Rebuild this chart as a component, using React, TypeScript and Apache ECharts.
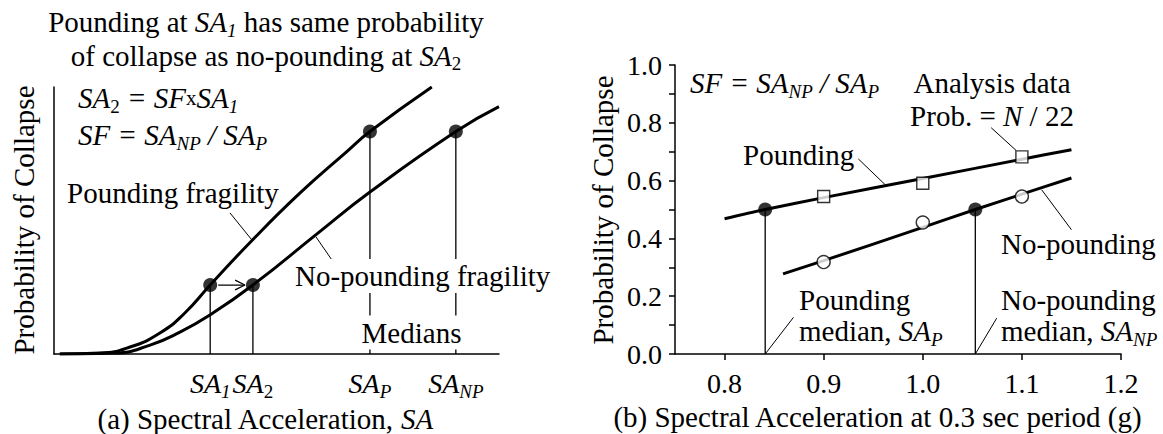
import React, { useEffect, useRef } from 'react';
import * as echarts from 'echarts';

const FONT = 'Liberation Serif';
const FS = 29;
const TICK_FS = 28;
const SUB = 19;

// ---------- Panel (a): schematic fragility curves (x: SA, arbitrary units; y: probability) ----------
const aPoundingCurve: number[][] = [
  [0.13, 0], [1.03, 0.002], [1.71, 0.0157], [2.38, 0.0472], [2.94, 0.0921], [3.51, 0.155],
  [4.4, 0.25], [5.53, 0.362], [6.58, 0.455], [7.1, 0.5], [8.49, 0.6],
];
const aNoPoundingCurve: number[][] = [
  [0.13, 0], [1.37, 0.002], [2.16, 0.02], [2.83, 0.049], [3.51, 0.088], [4.47, 0.155],
  [5.91, 0.27], [7.1, 0.364], [9.03, 0.5], [10, 0.556],
];
const aTickValues = [3.51, 4.47, 7.1, 9.03];
const aTickLabels = ['{ti|SA}{is|1}', '{ti|SA}{s|2}', '{ti|SA}{is|P}', '{ti|SA}{is|NP}'];
const aPoints: number[][] = [[3.51, 0.155], [4.47, 0.155], [7.1, 0.5], [9.03, 0.5]];
const aLeaders: number[][][] = [
  [[3.955, 0.317], [4.449, 0.256]],
  [[6.337, 0.198], [5.888, 0.263]],
];
const aArrowShaft: number[][] = [[3.69, 0.155], [4.29, 0.155]];
const aArrowHead: number[][] = [[4.07, 0.166], [4.29, 0.155], [4.07, 0.144]];

// ---------- Panel (b): analysis data ----------
const bXTicks = [0.8, 0.9, 1.0, 1.1, 1.2];
const bYLabels = [0, 0.2, 0.4, 0.6, 0.8, 1.0];
const bSA = [0.9, 1.0, 1.1];
const bPounding = [0.545, 0.591, 0.682];
const bNoPounding = [0.318, 0.455, 0.545];
const bPoundingFit: number[][] = [[0.8, 0.468], [0.841, 0.5], [0.9, 0.541], [1.0, 0.607], [1.1, 0.674], [1.15, 0.707]];
const bNoPoundingFit: number[][] = [[0.859, 0.277], [0.9, 0.323], [1.0, 0.438], [1.053, 0.5], [1.1, 0.553], [1.15, 0.609]];
const bMedians: number[][] = [[0.841, 0.5], [1.053, 0.5]];
const bLeaders: number[][][] = [
  [[0.935, 0.675], [0.962, 0.586]],
  [[1.12, 0.568], [1.15, 0.43]],
  [[1.069, 0.783], [1.094, 0.705]],
  [[0.841, 0], [0.8696, 0.127]],
  [[1.053, 0], [1.0746, 0.124]],
];

// rich styles for axis labels (ECharts label model)
const AXIS_RICH: any = {
  ti: { fontStyle: 'italic', fontSize: TICK_FS, fontFamily: FONT, color: '#000' },
  is: { fontStyle: 'italic', fontSize: SUB, fontFamily: FONT, color: '#000', verticalAlign: 'bottom', height: 16 },
  s: { fontSize: SUB, fontFamily: FONT, color: '#000', verticalAlign: 'bottom', height: 16 },
};

// rich styles for graphic texts, with font shorthand
const Q = '"Liberation Serif"';
const GRAPHIC_RICH: any = {
  i: { font: `italic ${FS}px ${Q}`, fill: '#000' },
  is: { font: `italic ${SUB}px ${Q}`, fill: '#000', verticalAlign: 'bottom', height: 16 },
  s: { font: `${SUB}px ${Q}`, fill: '#000', verticalAlign: 'bottom', height: 16 },
  x: { font: `21px ${Q}`, fill: '#000' },
};

const line = (data: number[][], idx: number, width: number, smooth: any = false): any => ({
  type: 'line',
  xAxisIndex: idx,
  yAxisIndex: idx,
  data,
  symbol: 'none',
  showSymbol: false,
  silent: true,
  smooth,
  lineStyle: { color: '#000', width },
  z: 3,
});

const txt = (text: string, x: number, y: number, o: any = {}): any => {
  const style: any = {
    text,
    fill: '#000',
    font: `${FS}px ${Q}`,
    lineHeight: 32,
    align: o.align || 'left',
    verticalAlign: 'middle',
    rich: GRAPHIC_RICH,
  };
  if (o.bg) {
    style.backgroundColor = o.bg;
    style.padding = [1, 2];
  }
  const el: any = { type: 'text', x, y, z: 100, silent: true, style };
  if (o.rot) el.rotation = o.rot;
  return el;
};

export default function App() {
  const ref = useRef<HTMLDivElement>(null);
  useEffect(() => {
    document.body.style.margin = '0';
    const chart = echarts.init(ref.current!, undefined, { renderer: 'svg' });
    const axisLine = { show: true, onZero: false, lineStyle: { color: '#000', width: 1.5 } };
    const series: any[] = [
      // panel (a)
      ...aPoints.map((p) => line([[p[0], 0], p], 0, 1.3)),
      line(aPoundingCurve, 0, 3, 0.5),
      line(aNoPoundingCurve, 0, 3, 0.5),
      ...aLeaders.map((l) => line(l, 0, 1)),
      line(aArrowShaft, 0, 1.3),
      line(aArrowHead, 0, 1.3),
      {
        type: 'scatter', xAxisIndex: 0, yAxisIndex: 0, data: aPoints, symbol: 'circle', symbolSize: 14,
        itemStyle: { color: '#000' }, silent: true, z: 5,
      },
      // panel (b)
      ...bMedians.map((p) => line([[p[0], 0], p], 1, 1.3)),
      line(bPoundingFit, 1, 3, 0.3),
      line(bNoPoundingFit, 1, 3, 0.3),
      ...bLeaders.map((l) => line(l, 1, 1)),
      {
        type: 'scatter', xAxisIndex: 1, yAxisIndex: 1, data: bSA.map((x, k) => [x, bPounding[k]]),
        symbol: 'rect', symbolSize: 12, itemStyle: { color: '#fff', borderColor: '#000', borderWidth: 1.4 }, silent: true, z: 5,
      },
      {
        type: 'scatter', xAxisIndex: 1, yAxisIndex: 1, data: bSA.map((x, k) => [x, bNoPounding[k]]),
        symbol: 'circle', symbolSize: 13, itemStyle: { color: '#fff', borderColor: '#000', borderWidth: 1.4 }, silent: true, z: 5,
      },
      {
        type: 'scatter', xAxisIndex: 1, yAxisIndex: 1, data: bMedians, symbol: 'circle', symbolSize: 14,
        itemStyle: { color: '#000' }, silent: true, z: 6,
      },
    ];

    chart.setOption({
      animation: false,
      grid: [
        { left: 54, right: 664, top: 87, bottom: 80 },
        { left: 675, right: 42, top: 65, bottom: 80 },
      ],
      xAxis: [
        {
          type: 'value', gridIndex: 0, min: 0, max: 10,
          axisLine, axisTick: { show: false }, splitLine: { show: false },
          axisLabel: {
            customValues: aTickValues,
            formatter: (v: number) => {
              let best = 0;
              aTickValues.forEach((t, k) => { if (Math.abs(t - v) < Math.abs(aTickValues[best] - v)) best = k; });
              return aTickLabels[best];
            },
            rich: AXIS_RICH, fontFamily: FONT, fontSize: TICK_FS, color: '#000', margin: 13, lineHeight: 32,
          },
        },
        {
          type: 'value', gridIndex: 1, min: 0.75, max: 1.2,
          axisLine,
          axisTick: { show: true, customValues: bXTicks, length: 6, lineStyle: { color: '#000', width: 1.5 } },
          splitLine: { show: false },
          axisLabel: {
            customValues: bXTicks, formatter: (v: number) => v.toFixed(1),
            fontFamily: FONT, fontSize: TICK_FS, color: '#000', margin: 13, lineHeight: 32,
          },
        },
      ],
      yAxis: [
        {
          type: 'value', gridIndex: 0, min: 0, max: 0.6,
          axisLine, axisTick: { show: false }, axisLabel: { show: false }, splitLine: { show: false },
        },
        {
          type: 'value', gridIndex: 1, min: 0, max: 1, interval: 0.1,
          axisLine,
          axisTick: { show: true, length: 6, lineStyle: { color: '#000', width: 1.5 } },
          splitLine: { show: false },
          axisLabel: {
            customValues: bYLabels, formatter: (v: number) => v.toFixed(1),
            fontFamily: FONT, fontSize: TICK_FS, color: '#000', margin: 13,
          },
        },
      ],
      series,
      graphic: [
        // panel (a)
        txt('Pounding at {i|SA}{is|1} has same probability', 266, 22, { align: 'center' }),
        txt('of collapse as no-pounding at {i|SA}{s|2}', 266, 55.5, { align: 'center' }),
        txt('{i|SA}{s|2}{i| = SF}{x|x}{i|SA}{is|1}', 78, 98),
        txt('{i|SF = SA}{is|NP}{i| / SA}{is|P}', 78, 135),
        txt('Pounding fragility', 67, 193),
        txt('No-pounding fragility', 293, 276, { bg: '#fff' }),
        txt('Medians', 411.5, 332.5, { align: 'center', bg: '#fff' }),
        txt('(a) Spectral Acceleration, {i|SA}', 265, 419, { align: 'center' }),
        txt('Probability of Collapse', 24, 220, { align: 'center', rot: Math.PI / 2 }),
        // panel (b)
        txt('{i|SF = SA}{is|NP}{i| / SA}{is|P}', 690, 83),
        txt('Analysis data', 992, 83, { align: 'center' }),
        txt('Prob. = {i|N} / 22', 992, 116, { align: 'center' }),
        txt('Pounding', 743, 155),
        txt('No-pounding', 1001, 244),
        txt('Pounding', 799, 300),
        txt('median, {i|SA}{is|P}', 799, 331),
        txt('No-pounding', 1001, 300),
        txt('median, {i|SA}{is|NP}', 1001, 331),
        txt('(b) Spectral Acceleration at 0.3 sec period (g)', 877.5, 417, { align: 'center' }),
        txt('Probability of Collapse', 603, 210, { align: 'center', rot: Math.PI / 2 }),
      ],
    });
    return () => chart.dispose();
  }, []);
  return <div ref={ref} style={{ width: 1163, height: 434 }} />;
}
